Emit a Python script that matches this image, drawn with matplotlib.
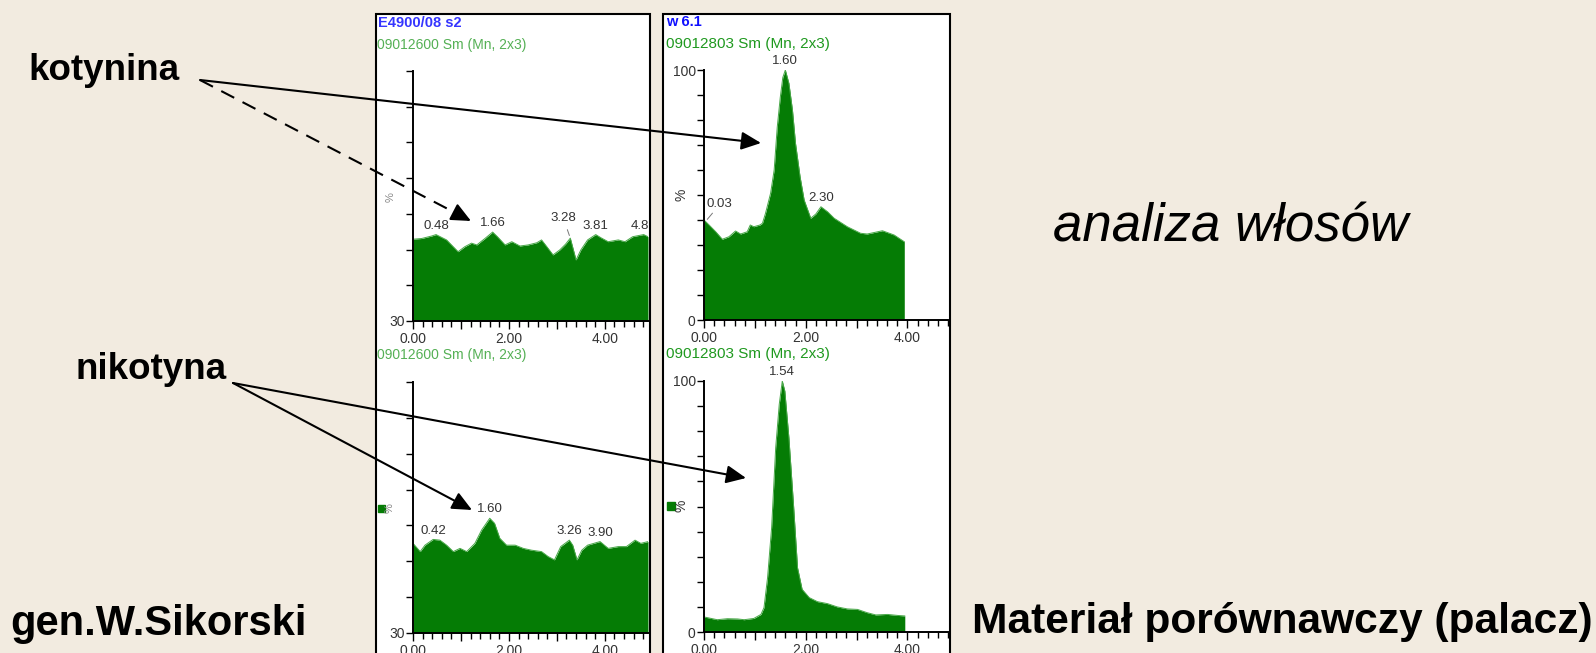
import numpy as np
import matplotlib
matplotlib.use("Agg")
import matplotlib.pyplot as plt
from matplotlib.patches import Rectangle
from matplotlib.ticker import MultipleLocator, FuncFormatter

plt.rcParams['font.family'] = ['Liberation Sans', 'DejaVu Sans']

# retention time (min) and relative signal for each trace
lt_time = [0.00, 0.18, 0.39, 0.48, 0.70, 0.94, 1.08, 1.22, 1.33, 1.50,
           1.66, 1.76, 1.92, 2.06, 2.23, 2.40, 2.58, 2.68, 2.79, 2.92,
           3.06, 3.18, 3.28, 3.40, 3.50, 3.64, 3.81, 3.92, 4.07, 4.28,
           4.42, 4.58, 4.81, 4.90]
lt_value = [52.9, 53.1, 53.8, 54.2, 52.7, 49.4, 50.8, 51.8, 51.3, 53.1,
            54.9, 53.6, 51.3, 52.2, 51.0, 51.3, 51.9, 52.7, 50.8, 48.5,
            49.9, 51.5, 53.2, 47.1, 49.9, 52.7, 54.2, 53.3, 52.2, 52.7,
            52.2, 53.6, 54.2, 53.6]

lb_time = [0.00, 0.15, 0.25, 0.42, 0.56, 0.70, 0.84, 0.98, 1.12, 1.29,
           1.43, 1.60, 1.70, 1.81, 1.95, 2.13, 2.30, 2.47, 2.68, 2.82,
           2.95, 3.08, 3.26, 3.33, 3.42, 3.52, 3.64, 3.90, 4.07, 4.28,
           4.45, 4.63, 4.75, 4.90]
lb_value = [55.0, 52.7, 54.5, 56.1, 55.9, 54.5, 52.7, 53.6, 52.7, 55.0,
            58.7, 62.0, 60.6, 56.4, 54.5, 54.5, 53.6, 53.1, 52.7, 51.3,
            50.4, 54.1, 55.9, 54.5, 50.4, 53.1, 54.5, 55.5, 53.6, 54.1,
            54.1, 55.9, 55.0, 55.5]

rt_time = [0.00, 0.10, 0.23, 0.36, 0.49, 0.62, 0.72, 0.85, 0.91, 0.98,
           1.10, 1.15, 1.21, 1.31, 1.38, 1.44, 1.50, 1.55, 1.60, 1.67,
           1.74, 1.80, 1.89, 1.97, 2.10, 2.20, 2.30, 2.43, 2.56, 2.82,
           3.08, 3.21, 3.51, 3.74, 3.94]
rt_value = [40.0, 38.0, 35.3, 32.3, 33.3, 35.6, 34.4, 35.3, 38.0, 37.3,
            38.0, 38.7, 42.7, 50.7, 60.0, 77.0, 89.0, 97.0, 100.0, 94.7,
            84.0, 70.7, 57.3, 48.0, 40.7, 42.4, 45.3, 43.3, 40.7, 37.3,
            34.7, 34.4, 35.7, 34.0, 31.3]

rb_time = [0.00, 0.26, 0.46, 0.66, 0.79, 0.98, 1.12, 1.18, 1.25, 1.33,
           1.41, 1.48, 1.54, 1.59, 1.67, 1.76, 1.84, 1.93, 2.07, 2.23,
           2.43, 2.62, 2.82, 3.02, 3.21, 3.38, 3.61, 3.81, 3.95]
rb_value = [6.0, 4.9, 5.3, 5.2, 4.9, 5.4, 7.0, 9.7, 21.6, 41.5,
            73.4, 90.7, 100.0, 96.0, 77.4, 50.9, 25.6, 17.0, 13.7, 12.1,
            11.3, 10.0, 9.2, 9.0, 7.7, 6.8, 7.0, 6.6, 6.4]

# labelled peak apexes
lt_peaks = [0.48, 1.66, 3.28, 3.81, 4.81]
lb_peaks = [0.42, 1.60, 3.26, 3.90]
rt_peaks = [0.03, 1.60, 2.30]
rb_peaks = [1.54]

left_sample = 'E4900/08 s2'
right_sample = 'w 6.1'
left_scan = '09012600 Sm (Mn, 2x3)'
right_scan = '09012803 Sm (Mn, 2x3)'

W, H = 1596, 653
BG = '#f2ebe0'
FILL = '#057c05'
TICK_TXT = '#333333'

fig = plt.figure(figsize=(W / 100, H / 100), dpi=100, facecolor=BG)


def px_axes(x0, y0, x1, y1, **kw):
    return fig.add_axes([x0 / W, 1 - y1 / H, (x1 - x0) / W, (y1 - y0) / H], **kw)


# background layer with the two white chromatogram windows
bg = px_axes(0, 0, W, H, zorder=0)
bg.set_xlim(0, W)
bg.set_ylim(H, 0)
bg.axis('off')
for x0, x1 in [(376, 650), (663, 950)]:
    bg.add_patch(Rectangle((x0, 14), x1 - x0, H + 20, facecolor='white',
                           edgecolor='black', lw=1.5))

# window headers
bg.text(378, 23, left_sample, color='#3535ff', fontsize=10.5, fontweight='bold', va='center')
bg.text(377, 45, left_scan, color='#55b055', fontsize=10, va='center')
bg.text(377, 355, left_scan, color='#55b055', fontsize=10, va='center')
bg.text(666, 22, right_sample, color='#1010ff', fontsize=10.5, fontweight='bold', va='center')
bg.text(666, 44, right_scan, color='#1f991f', fontsize=11, va='center')
bg.text(666, 354, right_scan, color='#1f991f', fontsize=11, va='center')


def chromatogram(box, t, v, ymin, peaks, xmax, ylabels):
    ax = px_axes(*box, zorder=1)
    ax.set_facecolor('none')
    ax.fill_between(t, v, ymin, color=FILL, lw=0)
    ax.plot(t, v, color='#48a848', lw=0.7)
    ax.set_xlim(0, xmax)
    ax.set_ylim(ymin, 100)
    for s in ['top', 'right']:
        ax.spines[s].set_visible(False)
    for s in ['left', 'bottom']:
        ax.spines[s].set_linewidth(1.4)
    ax.xaxis.set_major_locator(MultipleLocator(1))
    ax.xaxis.set_minor_locator(MultipleLocator(0.2))
    ax.xaxis.set_major_formatter(FuncFormatter(
        lambda x, p: f'{x:.2f}' if round(x) % 2 == 0 else ''))
    ax.yaxis.set_major_locator(MultipleLocator(10))
    ax.yaxis.set_major_formatter(FuncFormatter(
        lambda y, p: f'{y:.0f}' if round(y) in ylabels else ''))
    ax.tick_params(axis='x', which='major', length=6, width=1, labelsize=10,
                   labelcolor=TICK_TXT, pad=2)
    ax.tick_params(axis='x', which='minor', length=4, width=1)
    ax.tick_params(axis='y', length=5, width=1, labelsize=10,
                   labelcolor=TICK_TXT, pad=1)
    for pk in peaks:
        top = np.interp(pk, t, v)
        # labels near the window edge get cut by it
        ax.annotate(f'{pk:.2f}', xy=(pk, top), xytext=(0, 2),
                    textcoords='offset points', ha='center', va='bottom',
                    fontsize=9.5, color=TICK_TXT, annotation_clip=False,
                    clip_on=pk > xmax - 0.3)
    return ax


ax_lt = chromatogram((413, 71, 648, 321), lt_time, lt_value, 30,
                     [p for p in lt_peaks if p != 3.28], 4.9, [30])
ax_lb = chromatogram((413, 382, 648, 633), lb_time, lb_value, 30, lb_peaks, 4.9, [30])
ax_rt = chromatogram((704, 70, 948, 320), rt_time, rt_value, 0,
                     [p for p in rt_peaks if p != 0.03], 4.8, [0, 100])
ax_rb = chromatogram((704, 381, 948, 632), rb_time, rb_value, 0, rb_peaks, 4.8, [0, 100])

# peaks whose labels sit on a leader line
ax_lt.annotate('3.28', xy=(3.28, np.interp(3.28, lt_time, lt_value)), xytext=(-5, 10),
               textcoords='offset points', ha='center', va='bottom', fontsize=9.5,
               color=TICK_TXT, arrowprops=dict(arrowstyle='-', color='#777777', lw=0.7))
ax_rt.annotate('0.03', xy=(0.03, np.interp(0.03, rt_time, rt_value)), xytext=(1, 8),
               textcoords='offset points', ha='left', va='bottom', fontsize=9.5,
               color=TICK_TXT, annotation_clip=False,
               arrowprops=dict(arrowstyle='-', color='#777777', lw=0.7, shrinkA=0))

# y axis captions
bg.text(391, 197, '%', rotation=90, fontsize=8, color='#888888', ha='center', va='center')
bg.text(390, 508, '%', rotation=90, fontsize=8, color='#888888', ha='center', va='center')
bg.add_patch(Rectangle((378, 505), 7, 7, color=FILL))
bg.text(682, 195, '%', rotation=90, fontsize=10, color=TICK_TXT, ha='center', va='center')
bg.text(682, 506, '%', rotation=90, fontsize=10, color=TICK_TXT, ha='center', va='center')
bg.add_patch(Rectangle((667, 502), 8, 8, color=FILL))

# foreground layer: captions and arrows
fg = px_axes(0, 0, W, H, zorder=10)
fg.set_xlim(0, W)
fg.set_ylim(H, 0)
fg.axis('off')
fg.patch.set_visible(False)

fg.text(28, 80, 'kotynina', fontsize=26.5, fontweight='bold', va='baseline')
fg.text(76, 379, 'nikotyna', fontsize=26.5, fontweight='bold', va='baseline')
fg.text(10, 635, 'gen.W.Sikorski', fontsize=30, fontweight='bold', va='baseline')
fg.text(972, 633, 'Materiał porównawczy (palacz)', fontsize=30.6, fontweight='bold', va='baseline')
fg.text(1231, 241, 'analiza włosów', fontsize=38, style='italic', ha='center', va='baseline')

head = dict(arrowstyle='-|>,head_length=1.2,head_width=0.55', color='black',
            lw=1.5, shrinkA=0, shrinkB=0, mutation_scale=10)
fg.annotate('', xy=(761, 143), xytext=(200, 80), arrowprops=head)
fg.annotate('', xy=(746, 478), xytext=(233, 383), arrowprops=head)
fg.annotate('', xy=(472, 510), xytext=(233, 383), arrowprops=head)

# dashed pointer to the cotinine trace of the sample
dash_start = np.array([200, 80])
dash_end = np.array([471, 221])
fg.plot([dash_start[0], dash_end[0]], [dash_start[1], dash_end[1]], color='black',
        lw=1.5, ls=(0, (7, 4.5)))
stub = dash_end - (dash_end - dash_start) * 0.04
fg.annotate('', xy=tuple(dash_end), xytext=tuple(stub), arrowprops=head)

fig.savefig('out.png', dpi=100, facecolor=BG)
